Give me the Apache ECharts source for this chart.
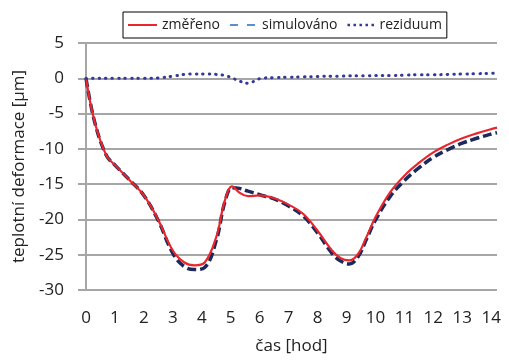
<!DOCTYPE html>
<html>
<head>
<meta charset="utf-8">
<script src="https://cdn.jsdelivr.net/npm/echarts@6/dist/echarts.min.js"></script>
<style>
  html, body { margin: 0; padding: 0; background: #fff; }
  #main { width: 509px; height: 360px; }
</style>
</head>
<body>
<div id="main"></div>
<script>
// čas [hod]
var hours = [0, 0.3, 0.7, 1, 1.5, 2, 2.5, 3, 3.4, 3.75, 4.1, 4.5, 4.8, 5.05, 5.3, 5.6, 6, 6.5, 7, 7.5,
  8, 8.5, 8.8, 9.1, 9.4, 9.7, 10, 10.5, 11, 11.5, 12, 12.5, 13, 13.5, 14, 14.2];
var measured = [0, -6.2, -10.9, -12.3, -14.4, -16.6, -20.1, -24.4, -26.1, -26.5, -26.1, -22.5, -17.3, -15.3, -16.2, -16.7, -16.6, -17.0, -17.9, -19.2,
  -21.6, -24.4, -25.5, -25.8, -24.9, -22.4, -19.7, -16.2, -13.8, -12.0, -10.5, -9.4, -8.5, -7.8, -7.2, -7.0];
var simulated = [0, -6.2, -10.9, -12.3, -14.4, -16.6, -20.2, -24.8, -26.7, -27.1, -26.8, -23.0, -17.5, -15.5, -15.6, -16.0, -16.5, -17.1, -18.1, -19.5,
  -21.9, -24.8, -25.9, -26.3, -25.3, -22.7, -20.1, -16.8, -14.5, -12.7, -11.2, -10.1, -9.2, -8.5, -7.9, -7.7];
var residual = [0, 0, 0, 0, 0, 0, 0.05, 0.3, 0.55, 0.6, 0.6, 0.55, 0.4, 0.05, -0.4, -0.7, -0.05, 0.1, 0.15, 0.2,
  0.25, 0.3, 0.3, 0.35, 0.35, 0.35, 0.4, 0.4, 0.45, 0.5, 0.5, 0.55, 0.6, 0.65, 0.7, 0.75];

function pairs(ys) {
  return hours.map(function (h, i) { return [h, ys[i]]; });
}

var font = '"Open Sans", sans-serif';
var gridGray = '#a6a6a6';

// legend glyphs: solid, dashed, dotted (thin strips)
var iconSolid = 'path://M0,0h29v2h-29z';
var iconDashed = 'path://M0,0h0 M2,0h8v2h-8z M19,0h8v2h-8z M29,0h0';
var iconDotted = 'path://M0,0h0 M2,0h2.5v2.5h-2.5z M8,0h2.5v2.5h-2.5z M14,0h2.5v2.5h-2.5z M20,0h2.5v2.5h-2.5z M26,0h2.5v2.5h-2.5z M29,0h0';

var chart = echarts.init(document.getElementById('main'));
chart.setOption({
  animation: false,
  textStyle: { fontFamily: font },
  legend: {
    left: 123, top: 12,
    borderColor: '#000', borderWidth: 1,
    padding: [6, 5],
    itemGap: 8, itemWidth: 29, itemHeight: 2.5,
    textStyle: { fontFamily: font, fontSize: 14, color: '#222', padding: [0, 0, 0, 0] },
    data: [
      { name: 'změřeno', icon: iconSolid, itemStyle: { color: '#e8262c' } },
      { name: 'simulováno', icon: iconDashed, itemStyle: { color: '#5b8fd0' } },
      { name: 'reziduum', icon: iconDotted, itemStyle: { color: '#34389a' } }
    ]
  },
  grid: { left: 86, right: 12, top: 43, bottom: 70 },
  xAxis: {
    type: 'value', min: 0, max: 14.2, interval: 1,
    name: 'čas [hod]', nameLocation: 'middle', nameGap: 48,
    nameTextStyle: { fontFamily: font, fontSize: 17, color: '#222' },
    axisLine: { show: false }, axisTick: { show: false }, splitLine: { show: false },
    axisLabel: {
      fontFamily: font, fontSize: 17, color: '#222', margin: 20,
      showMaxLabel: false,
      formatter: function (v) { return Number.isInteger(v) ? String(v) : ''; }
    }
  },
  yAxis: {
    type: 'value', min: -30, max: 5, interval: 5,
    name: 'teplotní deformace [µm]', nameLocation: 'middle', nameGap: 58,
    nameTextStyle: { fontFamily: font, fontSize: 17, color: '#222' },
    axisLine: { show: true, lineStyle: { color: gridGray, width: 2 } },
    axisTick: { show: true, length: 8, lineStyle: { color: gridGray, width: 2 } },
    splitLine: { lineStyle: { color: gridGray, width: 2 } },
    axisLabel: { fontFamily: font, fontSize: 17, color: '#222', margin: 22 }
  },
  series: [
    {
      name: 'simulováno', type: 'line', smooth: 0.4, symbol: 'none', z: 2,
      lineStyle: { color: '#1b2a5c', width: 3.5, type: [9, 4] },
      itemStyle: { color: '#1b2a5c' },
      data: pairs(simulated)
    },
    {
      name: 'změřeno', type: 'line', smooth: 0.4, symbol: 'none', z: 3,
      lineStyle: { color: '#e8262c', width: 2.2 },
      itemStyle: { color: '#e8262c' },
      data: pairs(measured)
    },
    {
      name: 'reziduum', type: 'line', smooth: 0.4, symbol: 'none', z: 4,
      lineStyle: { color: '#34389a', width: 3, type: [0.5, 6], cap: 'round' },
      itemStyle: { color: '#34389a' },
      data: pairs(residual)
    }
  ]
});
</script>
</body>
</html>
